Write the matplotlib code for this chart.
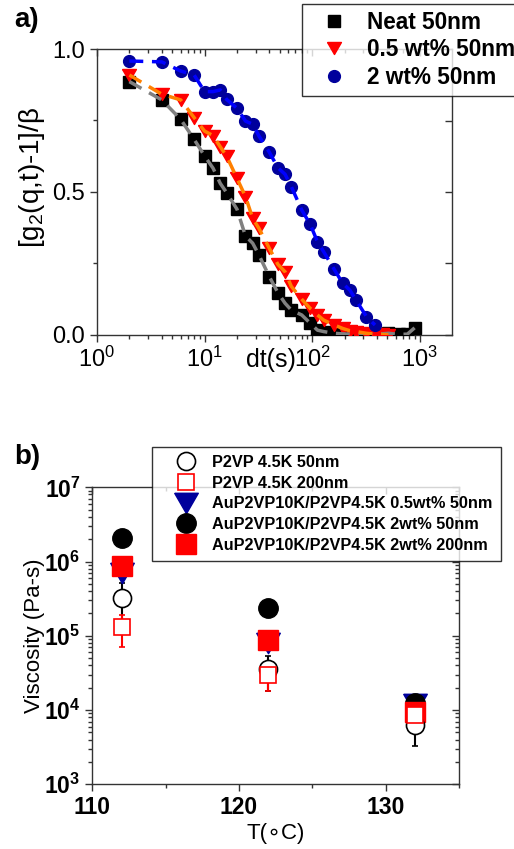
import numpy as np
import matplotlib
matplotlib.use("Agg")
from matplotlib import pyplot as plt
from matplotlib.lines import Line2D
from matplotlib.ticker import LogLocator, NullFormatter, FixedLocator, FixedFormatter

plt.rcParams['font.family'] = ['Liberation Sans', 'DejaVu Sans']
plt.rcParams['mathtext.fontset'] = 'custom'
plt.rcParams['mathtext.rm'] = 'Liberation Sans'
plt.rcParams['mathtext.bf'] = 'Liberation Sans:bold'
plt.rcParams['mathtext.it'] = 'Liberation Sans:italic'

# ---- panel a: normalized intensity correlation ----
t_neat = [2, 4, 6, 8, 10, 12, 14, 16, 20, 24, 28, 32, 40, 48, 56, 64, 80, 96, 112, 128,
          160, 192, 224, 256, 320, 384, 448, 512, 640, 768, 896]
g_neat = [0.886, 0.822, 0.754, 0.684, 0.626, 0.583, 0.530, 0.498, 0.440, 0.346, 0.321, 0.280,
          0.204, 0.148, 0.111, 0.087, 0.070, 0.041, 0.017, 0.012, 0.006, 0.004, 0.003, 0.002,
          0.002, 0.003, 0.004, 0.006, 0.002, 0.003, 0.025]
t_05 = [2, 4, 6, 8, 10, 12, 14, 16, 20, 24, 28, 32, 40, 48, 56, 64, 80, 96, 112, 128,
        160, 192, 224, 256, 320, 384, 448, 512]
g_05 = [0.909, 0.842, 0.822, 0.760, 0.713, 0.697, 0.658, 0.626, 0.548, 0.484, 0.408, 0.373,
        0.303, 0.247, 0.221, 0.170, 0.125, 0.093, 0.070, 0.052, 0.035, 0.023, 0.015, 0.012,
        0.006, 0.003, 0.002, 0.001]
t_2 = [2, 4, 6, 8, 10, 12, 14, 16, 20, 24, 28, 32, 40, 48, 56, 64, 80, 96, 112, 128,
       160, 192, 224, 256, 320, 384]
g_2 = [0.958, 0.955, 0.923, 0.909, 0.851, 0.851, 0.857, 0.824, 0.793, 0.748, 0.737, 0.696,
       0.639, 0.585, 0.562, 0.519, 0.437, 0.387, 0.326, 0.291, 0.230, 0.181, 0.157, 0.122,
       0.064, 0.035]
labels_a = ["Neat 50nm", "0.5 wt% 50nm", "2 wt% 50nm"]

# ---- panel b: viscosity vs temperature ----
T = [112, 122, 132]
visc_p2vp_50 = [3.2e5, 3.6e4, 6.3e3]
err_p2vp_50 = [1.9e5, 1.8e4, 3.0e3]
visc_p2vp_200 = [1.3e5, 3.0e4, 8.5e3]
err_p2vp_200 = [6.0e4, 1.2e4, 2.8e3]
visc_05_50 = [7.0e5, 8.0e4, 1.2e4]
visc_2_50 = [2.1e6, 2.4e5, 1.25e4]
visc_2_200 = [8.6e5, 8.7e4, 9.5e3]
labels_b = ["P2VP 4.5K 50nm", "P2VP 4.5K 200nm", "AuP2VP10K/P2VP4.5K 0.5wt% 50nm",
            "AuP2VP10K/P2VP4.5K 2wt% 50nm", "AuP2VP10K/P2VP4.5K 2wt% 200nm"]

W, H = 514, 849
fig = plt.figure(figsize=(W / 100, H / 100), dpi=100)

# Origin-like down triangle: wider than tall
tri = [(-1, 0.866), (1, 0.866), (0, -0.866), (-1, 0.866)]
AX_COL = '#333333'


def mirror_ticks(ax, xmaj, xmin, ymaj, ymin):
    top = ax.secondary_xaxis('top')
    top.xaxis.set_major_locator(xmaj)
    if xmin is not None:
        top.xaxis.set_minor_locator(xmin)
    top.xaxis.set_major_formatter(NullFormatter())
    top.xaxis.set_minor_formatter(NullFormatter())
    right = ax.secondary_yaxis('right')
    right.yaxis.set_major_locator(ymaj)
    if ymin is not None:
        right.yaxis.set_minor_locator(ymin)
    right.yaxis.set_major_formatter(NullFormatter())
    right.yaxis.set_minor_formatter(NullFormatter())
    for a in (top, right):
        a.tick_params(which='both', direction='in', width=1.0, color=AX_COL)
        a.tick_params(which='major', length=5)
        a.tick_params(which='minor', length=3)
        for s in a.spines.values():
            s.set_visible(False)


# panel a
ax1 = fig.add_axes([97 / W, 1 - 335 / H, 355 / W, 286 / H])
ax1.set_xscale('log')
ax1.set_xlim(1, 10 ** 3.3)
ax1.set_ylim(0, 1.0)

ax1.plot(t_neat, g_neat, ls='none', marker='s', ms=8, color='black', zorder=3)
ax1.plot(t_05, g_05, ls='none', marker=tri, ms=10, color='#ff0000', zorder=3)
ax1.plot(t_2, g_2, ls='none', marker='o', ms=8.5, color='#00009c', zorder=3)
ax1.plot(t_neat, g_neat, ls=(0, (4, 2.5)), lw=2.5, color='#808080', zorder=4)
ax1.plot(t_05, g_05, ls=(0, (4, 2.5)), lw=2.5, color='#ff8000', zorder=4)
ax1.plot(t_2, g_2, ls=(0, (4, 2.5)), lw=2.5, color='#0000ff', zorder=4)

for s in ax1.spines.values():
    s.set_linewidth(1.0)
    s.set_color(AX_COL)
ax1.xaxis.set_major_locator(LogLocator(base=10, numticks=10))
ax1.xaxis.set_minor_locator(LogLocator(base=10, subs=np.arange(2, 10), numticks=20))
ax1.xaxis.set_minor_formatter(NullFormatter())
ax1.yaxis.set_major_locator(FixedLocator([0, 0.5, 1.0]))
ax1.yaxis.set_major_formatter(FixedFormatter(['0.0', '0.5', '1.0']))
ax1.yaxis.set_minor_locator(FixedLocator([0.25, 0.75]))
ax1.tick_params(which='both', direction='out', top=False, right=False, width=1.0, color=AX_COL,
                labelsize=17)
ax1.tick_params(which='major', length=5)
ax1.tick_params(which='minor', length=3)
mirror_ticks(ax1, LogLocator(base=10, numticks=10),
             LogLocator(base=10, subs=np.arange(2, 10), numticks=20),
             FixedLocator([0, 0.25, 0.5, 0.75, 1.0]), None)

ax1.set_xlabel('dt(s)', fontsize=18, va='top')
ax1.xaxis.set_label_coords(0.49, -0.045)
ax1.set_ylabel(r'[g$_2$(q,t)-1]/β', fontsize=20)
ax1.yaxis.set_label_coords(-0.14, 0.55)

hand_a = [Line2D([], [], ls='none', marker='s', ms=8, color='black'),
          Line2D([], [], ls='none', marker=tri, ms=10, color='#ff0000'),
          Line2D([], [], ls='none', marker='o', ms=8.5, color='#00009c')]
fig.legend(hand_a, labels_a, loc='upper left', bbox_to_anchor=(302 / W, 1 - 4 / H),
           bbox_transform=fig.transFigure, frameon=True, fancybox=False, edgecolor='black',
           prop={'weight': 'bold', 'size': 16.3}, handlelength=2.2, handletextpad=0.36,
           labelspacing=0.2, borderpad=0.3, borderaxespad=0)
fig.text(14 / W, 1 - 20 / H, 'a)', fontsize=20, fontweight='bold', va='center', ha='left')

# panel b
ax2 = fig.add_axes([92.3 / W, 1 - 784.3 / H, 366.7 / W, 297 / H])
ax2.set_yscale('log')
ax2.set_xlim(110, 135)
ax2.set_ylim(1e3, 1e7)

ax2.errorbar(T, visc_p2vp_50, yerr=err_p2vp_50, ls='none', marker='o', ms=13, mfc='white',
             mec='black', mew=1.2, ecolor='black', elinewidth=1.5, capsize=2.5, capthick=1.5, zorder=3)
ax2.errorbar(T, visc_p2vp_200, yerr=err_p2vp_200, ls='none', marker='s', ms=12, mfc='white',
             mec='#ff0000', mew=1.2, ecolor='#ff0000', elinewidth=1.5, capsize=2.5, capthick=1.5, zorder=3)
ax2.plot(T, visc_05_50, ls='none', marker=tri, ms=17, color='#00009c', zorder=3)
ax2.plot(T, visc_2_50, ls='none', marker='o', ms=14, color='black', zorder=3)
ax2.plot(T, visc_2_200, ls='none', marker='s', ms=14, color='#ff0000', zorder=3)

for s in ax2.spines.values():
    s.set_linewidth(1.0)
    s.set_color(AX_COL)
ax2.xaxis.set_major_locator(FixedLocator([110, 120, 130]))
ax2.xaxis.set_minor_locator(FixedLocator([115, 125, 135]))
ax2.yaxis.set_major_locator(FixedLocator([1e3, 1e4, 1e5, 1e6, 1e7]))
ax2.yaxis.set_major_formatter(FixedFormatter([r'$\mathbf{10^{%d}}$' % k for k in range(3, 8)]))
ax2.yaxis.set_minor_locator(LogLocator(base=10, subs=np.arange(2, 10), numticks=20))
ax2.yaxis.set_minor_formatter(NullFormatter())
ax2.tick_params(which='both', direction='out', top=False, right=False, width=1.0, color=AX_COL,
                labelsize=16.5)
ax2.tick_params(which='major', length=5)
ax2.tick_params(which='minor', length=3)
for lab in ax2.get_xticklabels():
    lab.set_fontweight('bold')
mirror_ticks(ax2, FixedLocator([110, 120, 130]), FixedLocator([115, 125, 135]),
             FixedLocator([1e3, 1e4, 1e5, 1e6, 1e7]),
             LogLocator(base=10, subs=np.arange(2, 10), numticks=20))

ax2.set_xlabel('T(\u2218C)', fontsize=16, va='top')
ax2.xaxis.set_label_coords(0.5, -0.13)
ax2.set_ylabel('Viscosity (Pa-s)', fontsize=16)
ax2.yaxis.set_label_coords(-0.13, 0.5)

hand_b = [Line2D([], [], ls='none', marker='o', ms=13, mfc='white', mec='black', mew=1.2),
          Line2D([], [], ls='none', marker='s', ms=12, mfc='white', mec='#ff0000', mew=1.2),
          Line2D([], [], ls='none', marker=tri, ms=17, color='#00009c'),
          Line2D([], [], ls='none', marker='o', ms=14, color='black'),
          Line2D([], [], ls='none', marker='s', ms=14, color='#ff0000')]
fig.legend(hand_b, labels_b, loc='upper left', bbox_to_anchor=(152 / W, 1 - 447 / H),
           bbox_transform=fig.transFigure, frameon=True, fancybox=False, edgecolor='black',
           prop={'weight': 'bold', 'size': 11.7}, handlelength=3.2, handletextpad=0.0,
           labelspacing=0.345, borderpad=0.5, borderaxespad=0)
fig.text(14 / W, 1 - 457 / H, 'b)', fontsize=20, fontweight='bold', va='center', ha='left')

fig.savefig('out.png', dpi=100)
